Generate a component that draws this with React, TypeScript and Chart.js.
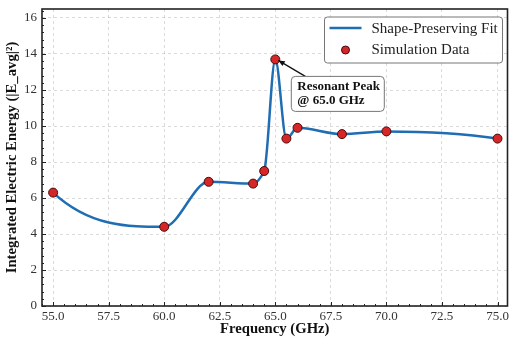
import React, { useEffect, useRef } from 'react';
import { Chart, registerables } from 'chart.js';

Chart.register(...registerables);

const freqs = [55, 60, 62, 64, 64.5, 65, 65.5, 66, 68, 70, 75];
const energy = [6.3, 4.4, 6.9, 6.8, 7.5, 13.7, 9.3, 9.9, 9.55, 9.7, 9.3];
const xTicks = [55, 57.5, 60, 62.5, 65, 67.5, 70, 72.5, 75];
const yTicks = [0, 2, 4, 6, 8, 10, 12, 14, 16];
const xMinorStep = 0.5;
const yMinorStep = 0.4;
const peakIndex = 5;
const peakLabel = ['Resonant Peak', '@ 65.0 GHz'];
const fitLabel = 'Shape-Preserving Fit';
const dataLabel = 'Simulation Data';
const xTitle = 'Frequency (GHz)';
const yTitle = 'Integrated Electric Energy (|E_avg|²)';

const FONT = '"Liberation Serif", "Times New Roman", serif';
const LINE_COLOR = '#1f6db3';
const DOT_COLOR = '#d62728';
const DOT_EDGE = '#4a0a0a';

function roundRect(ctx: CanvasRenderingContext2D, x: number, y: number, w: number, h: number, r: number) {
  ctx.beginPath();
  ctx.moveTo(x + r, y);
  ctx.lineTo(x + w - r, y);
  ctx.quadraticCurveTo(x + w, y, x + w, y + r);
  ctx.lineTo(x + w, y + h - r);
  ctx.quadraticCurveTo(x + w, y + h, x + w - r, y + h);
  ctx.lineTo(x + r, y + h);
  ctx.quadraticCurveTo(x, y + h, x, y + h - r);
  ctx.lineTo(x, y + r);
  ctx.quadraticCurveTo(x, y, x + r, y);
  ctx.closePath();
}

// Shape-preserving (PCHIP) tangents applied to the line element's bezier control points
const pchip = {
  id: 'pchip',
  beforeDatasetDraw(chart: any, args: any) {
    if (args.index !== 1) return;
    const meta = args.meta;
    const pts = meta.data;
    const n = pts.length;
    if (n < 3) return;
    const h: number[] = [];
    const del: number[] = [];
    for (let k = 0; k < n - 1; k++) {
      h[k] = pts[k + 1].x - pts[k].x;
      del[k] = (pts[k + 1].y - pts[k].y) / h[k];
    }
    const d: number[] = new Array(n).fill(0);
    for (let k = 1; k < n - 1; k++) {
      if (del[k - 1] * del[k] <= 0) {
        d[k] = 0;
      } else {
        const w1 = 2 * h[k] + h[k - 1];
        const w2 = h[k] + 2 * h[k - 1];
        d[k] = (w1 + w2) / (w1 / del[k - 1] + w2 / del[k]);
      }
    }
    const endSlope = (h0: number, h1: number, d0: number, d1: number) => {
      let s = ((2 * h0 + h1) * d0 - h0 * d1) / (h0 + h1);
      if (Math.sign(s) !== Math.sign(d0)) s = 0;
      else if (Math.sign(d0) !== Math.sign(d1) && Math.abs(s) > Math.abs(3 * d0)) s = 3 * d0;
      return s;
    };
    d[0] = endSlope(h[0], h[1], del[0], del[1]);
    d[n - 1] = endSlope(h[n - 2], h[n - 3], del[n - 2], del[n - 3]);
    for (let k = 0; k < n; k++) {
      const p = pts[k];
      if (k > 0) {
        const hp = h[k - 1] / 3;
        p.cp1x = p.x - hp;
        p.cp1y = p.y - d[k] * hp;
      }
      if (k < n - 1) {
        const hn = h[k] / 3;
        p.cp2x = p.x + hn;
        p.cp2y = p.y + d[k] * hn;
      }
    }
    if (meta.dataset) meta.dataset._path = undefined;
  },
};

const decor = {
  id: 'decor',
  afterDraw(chart: any) {
    const ctx: CanvasRenderingContext2D = chart.ctx;
    const { left, right, top, bottom } = chart.chartArea;
    const xs = chart.scales.x;
    const ys = chart.scales.y;
    ctx.save();

    // inward ticks (major + minor) on bottom and left
    ctx.strokeStyle = '#222';
    ctx.lineWidth = 1;
    ctx.beginPath();
    for (let v = Math.ceil(xs.min / xMinorStep) * xMinorStep; v <= xs.max + 1e-9; v += xMinorStep) {
      const px = Math.round(xs.getPixelForValue(v)) + 0.5;
      const major = xTicks.some((t) => Math.abs(t - v) < 1e-6);
      const len = major ? 4 : 2;
      ctx.moveTo(px, bottom);
      ctx.lineTo(px, bottom - len);
    }
    for (let v = Math.ceil(ys.min / yMinorStep) * yMinorStep; v <= ys.max + 1e-9; v += yMinorStep) {
      const py = Math.round(ys.getPixelForValue(v)) + 0.5;
      const major = yTicks.some((t) => Math.abs(t - v) < 1e-6);
      const len = major ? 4 : 2;
      ctx.moveTo(left, py);
      ctx.lineTo(left + len, py);
    }
    ctx.stroke();

    // frame
    ctx.strokeStyle = '#222';
    ctx.lineWidth = 1.6;
    ctx.strokeRect(left, top, right - left, bottom - top);

    // legend
    const lw = 178;
    const lh = 46;
    const lx = right - 5 - lw;
    const ly = top + 8;
    roundRect(ctx, lx, ly, lw, lh, 3);
    ctx.fillStyle = 'rgba(255,255,255,0.9)';
    ctx.fill();
    ctx.strokeStyle = '#777';
    ctx.lineWidth = 1;
    ctx.stroke();

    ctx.strokeStyle = LINE_COLOR;
    ctx.lineWidth = 2.5;
    ctx.beginPath();
    ctx.moveTo(lx + 5, ly + 11);
    ctx.lineTo(lx + 37, ly + 11);
    ctx.stroke();

    ctx.beginPath();
    ctx.arc(lx + 21, ly + 33, 4, 0, Math.PI * 2);
    ctx.fillStyle = DOT_COLOR;
    ctx.fill();
    ctx.strokeStyle = DOT_EDGE;
    ctx.lineWidth = 1;
    ctx.stroke();

    ctx.fillStyle = '#222';
    ctx.font = `15px ${FONT}`;
    ctx.textBaseline = 'middle';
    ctx.textAlign = 'left';
    ctx.fillText(fitLabel, lx + 47, ly + 12);
    ctx.fillText(dataLabel, lx + 47, ly + 33);

    // annotation
    const px = xs.getPixelForValue(freqs[peakIndex]);
    const py = ys.getPixelForValue(energy[peakIndex]);
    const bx = px + 16;
    const by = py + 17;
    const bw = 93;
    const bh = 35;
    const sx = px + 30;
    const sy = py + 17;
    const hx = px + 3;
    const hy = py + 1;
    const ang = Math.atan2(hy - sy, hx - sx);
    ctx.strokeStyle = '#111';
    ctx.lineWidth = 1.3;
    ctx.beginPath();
    ctx.moveTo(sx, sy);
    ctx.lineTo(hx, hy);
    ctx.stroke();
    ctx.beginPath();
    ctx.moveTo(hx, hy);
    ctx.lineTo(hx - 7 * Math.cos(ang - 0.4), hy - 7 * Math.sin(ang - 0.4));
    ctx.lineTo(hx - 7 * Math.cos(ang + 0.4), hy - 7 * Math.sin(ang + 0.4));
    ctx.closePath();
    ctx.fillStyle = '#111';
    ctx.fill();

    roundRect(ctx, bx, by, bw, bh, 4);
    ctx.fillStyle = 'rgba(255,255,255,0.95)';
    ctx.fill();
    ctx.strokeStyle = '#777';
    ctx.lineWidth = 1;
    ctx.stroke();
    ctx.fillStyle = '#111';
    ctx.font = `bold 13px ${FONT}`;
    ctx.textAlign = 'left';
    ctx.textBaseline = 'middle';
    ctx.fillText(peakLabel[0], bx + 6, by + 10);
    ctx.fillText(peakLabel[1], bx + 6, by + 24);

    ctx.restore();
  },
};

export default function App() {
  const ref = useRef<HTMLCanvasElement | null>(null);

  useEffect(() => {
    if (!ref.current) return;
    const pts = freqs.map((f, i) => ({ x: f, y: energy[i] }));
    const chart = new Chart(ref.current, {
      type: 'line',
      data: {
        datasets: [
          {
            label: dataLabel,
            data: pts,
            showLine: false,
            pointRadius: 4.5,
            pointBackgroundColor: DOT_COLOR,
            pointBorderColor: DOT_EDGE,
            pointBorderWidth: 1,
          },
          {
            label: fitLabel,
            data: pts,
            borderColor: LINE_COLOR,
            borderWidth: 2.5,
            pointRadius: 0,
            cubicInterpolationMode: 'monotone',
            fill: false,
          },
        ],
      },
      options: {
        responsive: false,
        animation: false,
        devicePixelRatio: 1,
        layout: { padding: { top: 9, right: 1.5, left: 0, bottom: 0 } },
        plugins: { legend: { display: false }, tooltip: { enabled: false } },
        scales: {
          x: {
            type: 'linear',
            min: 54.5,
            max: 75.45,
            afterBuildTicks: (s: any) => {
              s.ticks = xTicks.map((v) => ({ value: v }));
            },
            afterFit: (s: any) => {
              s.height = 33;
              s.paddingLeft = 0;
              s.paddingRight = 0;
            },
            ticks: {
              font: { family: FONT, size: 13 },
              color: '#333',
              padding: 3,
              maxRotation: 0,
              callback: (v: any) => Number(v).toFixed(1),
            },
            grid: { color: 'rgba(0,0,0,0.18)', lineWidth: 0.8, drawTicks: false },
            border: { display: false, dash: [3, 3] },
            title: {
              display: true,
              text: xTitle,
              font: { family: FONT, size: 14.7, weight: 'bold' },
              color: '#111',
              padding: { top: 0, bottom: 1 },
            },
          },
          y: {
            type: 'linear',
            min: 0,
            max: 16.5,
            afterBuildTicks: (s: any) => {
              s.ticks = yTicks.map((v) => ({ value: v }));
            },
            afterFit: (s: any) => {
              s.width = 42;
              s.paddingTop = 0;
              s.paddingBottom = 0;
            },
            ticks: {
              font: { family: FONT, size: 13 },
              color: '#333',
              padding: 5,
              callback: (v: any) => String(v),
            },
            grid: { color: 'rgba(0,0,0,0.18)', lineWidth: 0.8, drawTicks: false },
            border: { display: false, dash: [3, 3] },
            title: {
              display: true,
              text: yTitle,
              font: { family: FONT, size: 14.7, weight: 'bold' },
              color: '#111',
              padding: { top: 3, bottom: 0 },
            },
          },
        },
      },
      plugins: [pchip, decor],
    } as any);
    return () => chart.destroy();
  }, []);

  return (
    <div style={{ position: 'absolute', left: 0, top: 0, width: 513, height: 339, background: '#fff' }}>
      <canvas ref={ref} width={513} height={339} />
    </div>
  );
}
